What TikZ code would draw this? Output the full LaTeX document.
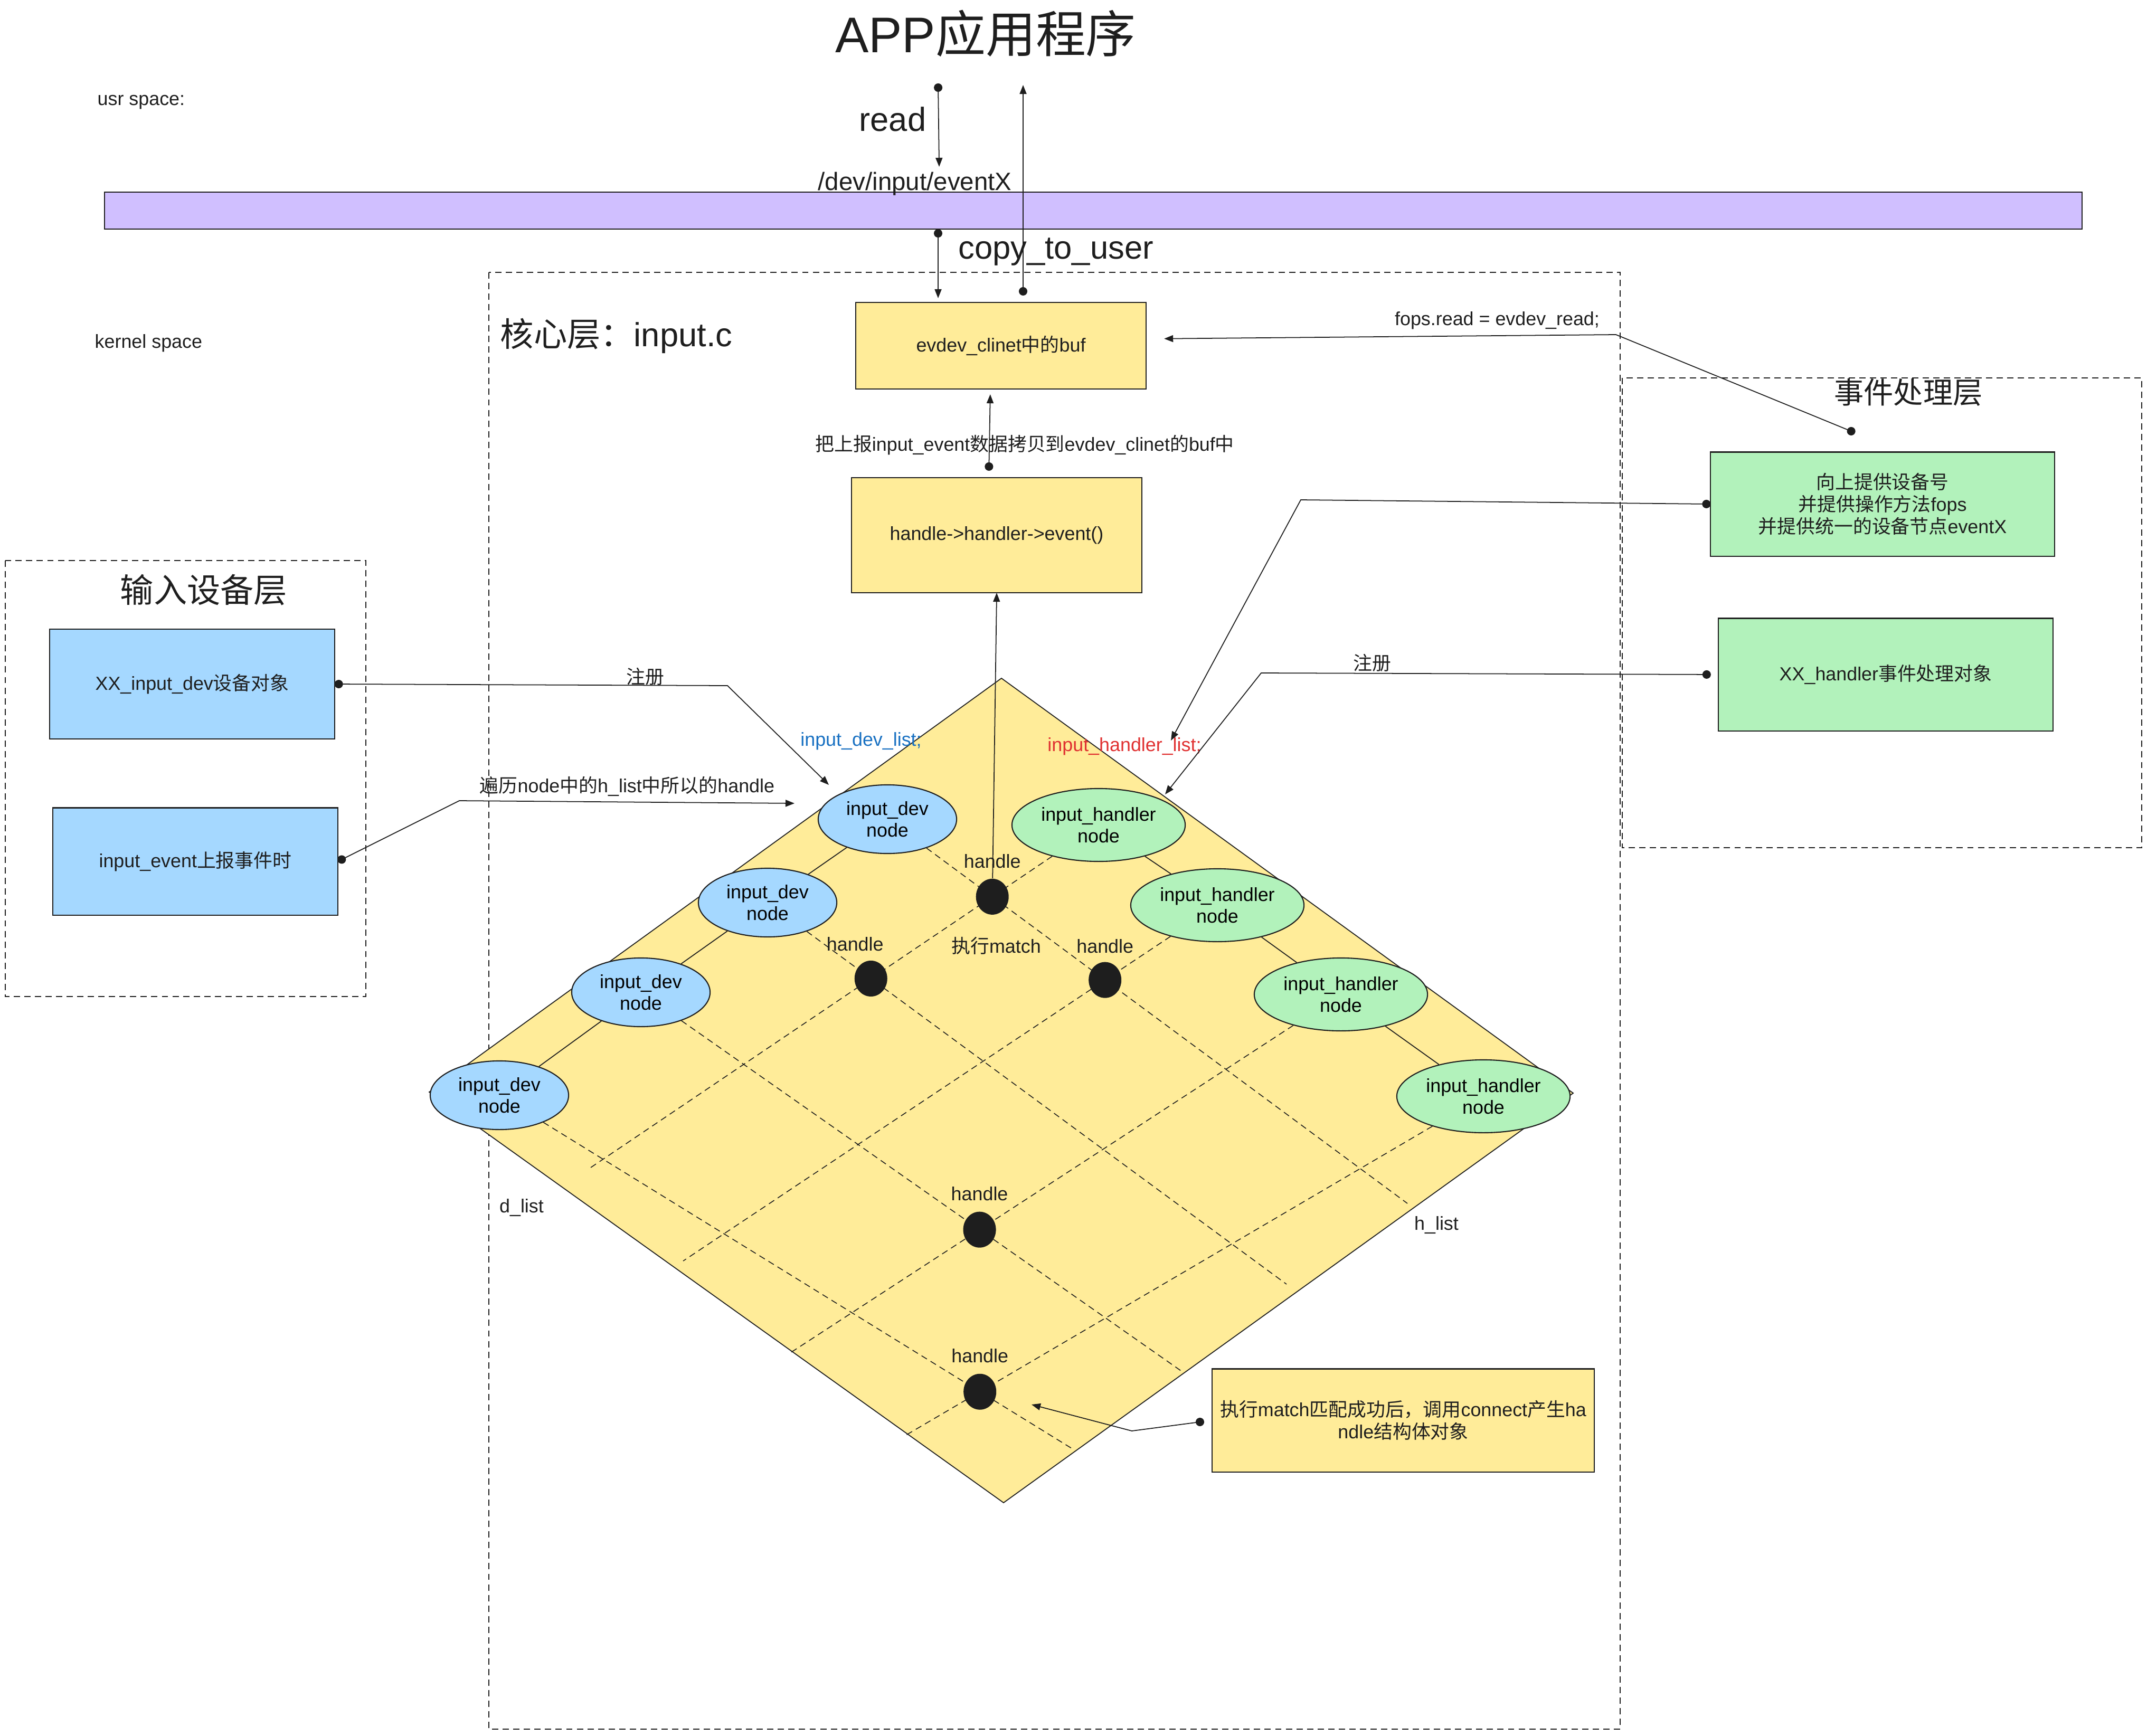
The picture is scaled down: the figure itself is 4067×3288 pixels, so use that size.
\documentclass[tikz,border=0pt]{standalone}
\usepackage{fontspec}
\setmainfont{Liberation Sans}
\newfontfamily\zhfont{Noto Sans CJK SC}
% switch to the CJK font for runs of Chinese characters
\XeTeXinterchartokenstate=1
\newXeTeXintercharclass\zhclass
\newcount\zhcnt
\zhcnt="3000
\loop \XeTeXcharclass\zhcnt=\zhclass \advance\zhcnt by 1 \ifnum\zhcnt<"A000 \repeat
\zhcnt="FF00
\loop \XeTeXcharclass\zhcnt=\zhclass \advance\zhcnt by 1 \ifnum\zhcnt<"FF60 \repeat
\XeTeXinterchartoks 0 \zhclass = {\begingroup\zhfont}
\XeTeXinterchartoks 4095 \zhclass = {\begingroup\zhfont}
\XeTeXinterchartoks \zhclass 0 = {\endgroup}
\XeTeXinterchartoks \zhclass 4095 = {\endgroup}
\usetikzlibrary{arrows.meta,shapes.geometric}
\definecolor{ink}{HTML}{1E1E1E}
\definecolor{yel}{HTML}{FFEC99}
\definecolor{blu}{HTML}{A5D8FF}
\definecolor{grn}{HTML}{B2F2BB}
\definecolor{pur}{HTML}{D0BFFF}
\definecolor{listblue}{HTML}{1971C2}
\definecolor{listred}{HTML}{E03131}

\begin{document}
\begin{tikzpicture}[
x=0.01cm, y=-0.01cm,
      txt/.style = {font=\fontsize{10.2}{12}\selectfont, text=ink},% small labels
    layer/.style = {font=\fontsize{18}{22}\selectfont, text=ink},% layer titles
      box/.style = {rectangle, draw=ink, line width=0.6pt, outer sep=0pt,
                    align=center, txt},
     ybox/.style = {box, fill=yel},
     bbox/.style = {box, fill=blu},
     gbox/.style = {box, fill=grn},
  devnode/.style = {ellipse, draw=ink, line width=0.6pt, fill=blu, inner sep=0pt,
                    minimum width=2.62cm, minimum height=1.3cm, align=center,
                    font=\fontsize{10.2}{11.5}\selectfont},
  hdlnode/.style = {devnode, fill=grn, minimum width=3.28cm, minimum height=1.38cm},
     hdot/.style = {ellipse, fill=ink, inner sep=0pt,
                    minimum width=0.62cm, minimum height=0.68cm},
    frame/.style = {draw=ink, line width=0.55pt, dash pattern=on 3.4pt off 2.3pt},
     grid/.style = {draw=ink, line width=0.45pt, dash pattern=on 3.4pt off 2.3pt},
     link/.style = {draw=ink, line width=0.5pt},
      arr/.style = {draw=ink, line width=0.5pt, -{Triangle[length=0.17cm,width=0.13cm]}},
   dotarr/.style = {draw=ink, line width=0.5pt,
                    {Circle[length=0.16cm]}-{Triangle[length=0.17cm,width=0.13cm]}},
                        ]
\useasboundingbox (0,0) rectangle (4067,3288);

% user space
\node[font=\fontsize{27}{32}\selectfont, text=ink, anchor=base] (app) at (1867,100) {APP应用程序};
\node[txt, inner sep=0pt, anchor=base west] (usr) at (184,200) {usr space:};
\node[txt, inner sep=0pt, anchor=base west] (kern) at (179,659) {kernel space};
\node[rectangle, draw=ink, line width=0.6pt, fill=pur, outer sep=0pt,
      minimum width=37.44cm, minimum height=0.7cm] (bar) at (2071,399) {};
\node[font=\fontsize{18}{22}\selectfont, text=ink, anchor=base] (read) at (1691,249) {read};
\node[font=\fontsize{13.5}{16}\selectfont, text=ink, anchor=base] (devx) at (1733,361) {/dev/input/eventX};
\node[font=\fontsize{17.5}{21}\selectfont, text=ink, anchor=base] (ctu) at (2000,490) {copy\_to\_user};

% dashed layers
\draw[frame] (926,516) rectangle (3069,3276);
\draw[frame] (3073,716) rectangle (4057,1606);
\draw[frame] (10,1062) rectangle (693,1888);
\node[layer, inner sep=0pt, anchor=base west] (core) at (947,656) {核心层：input.c};
\node[layer] (inlayer) at (386,1118) {输入设备层};
\node[layer, font=\fontsize{16}{20}\selectfont] (evlayer) at (3615,743) {事件处理层};

% boxes
\node[ybox, minimum width=5.5cm, minimum height=1.64cm] (evdev) at (1896,655) {evdev\_clinet中的buf};
\node[ybox, minimum width=5.5cm, minimum height=2.18cm] (event) at (1888,1014) {handle->handler->event()};
\node[bbox, minimum width=5.39cm, minimum height=2.08cm] (db1) at (364,1296) {XX\_input\_dev设备对象};
\node[bbox, minimum width=5.4cm, minimum height=2.03cm] (db2) at (370,1632) {input\_event上报事件时};
\node[gbox, minimum width=6.51cm, minimum height=1.97cm] (hb1) at (3566,955)
    {向上提供设备号\\并提供操作方法fops\\并提供统一的设备节点eventX};
\node[gbox, minimum width=6.34cm, minimum height=2.13cm] (hb2) at (3572,1278) {XX\_handler事件处理对象};

% the match table
\draw[ink, line width=0.5pt, fill=yel] (1897,1285) -- (2980,2071) -- (1901,2847) -- (813,2069) -- cycle;
\foreach \i/\x/\y in {1/1681/1552, 2/1454/1710, 3/1214/1880, 4/946/2075}
    \node[devnode] (dev\i) at (\x,\y) {input\_dev\\node};
\foreach \i/\x/\y in {1/2081/1563, 2/2306/1715, 3/2540/1884, 4/2810/2077}
    \node[hdlnode] (hdl\i) at (\x,\y) {input\_handler\\node};
\coordinate (e1) at (2666,2280);
\coordinate (e2) at (2437,2433);
\coordinate (e3) at (2237,2597);
\coordinate (e4) at (2030,2744);
\coordinate (f1) at (1116,2214);
\coordinate (f2) at (1294,2389);
\coordinate (f3) at (1494,2565);
\coordinate (f4) at (1716,2719);
\foreach \i in {1,...,4}
    {\draw[grid] (dev\i) -- (e\i);
     \draw[grid] (hdl\i) -- (f\i);}
\foreach \i/\j in {1/2,2/3,3/4}
    {\draw[link] (dev\i) -- (dev\j);
     \draw[link] (hdl\i) -- (hdl\j);}
\node[hdot, label={[txt, label distance=0.07cm]above:handle}] (h1)
    at (intersection of dev1.center--e1 and hdl1.center--f1) {};
\node[hdot, label={[txt, label distance=0.05cm, xshift=-0.3cm]above:handle}] (h2)
    at (intersection of dev2.center--e2 and hdl1.center--f1) {};
\node[hdot, label={[txt, label distance=0.04cm]above:handle}] (h3)
    at (intersection of dev1.center--e1 and hdl2.center--f2) {};
\node[hdot, label={[txt, label distance=0.08cm]above:handle}] (h4)
    at (intersection of dev3.center--e3 and hdl3.center--f3) {};
\node[hdot, label={[txt, label distance=0.08cm]above:handle}] (h5)
    at (intersection of dev4.center--e4 and hdl4.center--f4) {};
\node[txt] (match) at (1887,1792) {执行match};
\node[txt, text=listblue] (dlist) at (1631,1404) {input\_dev\_list;};
\node[txt, text=listred] (hlist) at (2130,1414) {input\_handler\_list;};
\node[txt] (dl) at (988,2288) {d\_list};
\node[txt] (hl) at (2721,2321) {h\_list};
\node[ybox, minimum width=7.24cm, minimum height=1.95cm] (note) at (2658,2691)
    {执行match匹配成功后，调用connect产生ha\\ndle结构体对象};

% connectors
\coordinate (rd0) at (1777,158);
\coordinate (rd1) at (1779,316);
\coordinate (cp0) at (rd0 |- bar.south);
\coordinate (up1) at (1938,161);
\draw[dotarr] (rd0) -- (rd1);
\draw[dotarr, shorten >=0.08cm] (cp0) -- (cp0 |- evdev.north);
\draw[dotarr, shorten <=0.13cm] (up1 |- evdev.north) -- (up1);
\draw[dotarr, shorten <=0.13cm, shorten >=0.1cm]
    ([xshift=-0.15cm]event.north) -- ([xshift=-0.2cm]evdev.south);
\node[txt] (copylbl) at (1941,843) {把上报input\_event数据拷贝到evdev\_clinet的buf中};
\draw[arr] (h1) -- (event.south);

\coordinate (fr0) at (3514,820);
\coordinate (fr1) at (3061,634);
\draw[dotarr, shorten >=0.34cm] (fr0) -- (fr1) -- ([yshift=0.13cm]evdev.east);
\node[txt] (fops) at (2836,607) {fops.read = evdev\_read;};

\coordinate (reg1) at (1378,1299);
\coordinate (reg2) at (1570,1487);
\draw[dotarr] (db1.east) -- (reg1) -- (reg2);
\node[txt] (reglbl) at (1222,1282) {注册};
\coordinate (trv1) at (870,1517);
\coordinate (trv2) at (1505,1522);
\draw[dotarr] (db2.east) -- (trv1) -- (trv2);
\node[txt] (trvlbl) at (1188,1490) {遍历node中的h\_list中所以的handle};

\coordinate (hl1) at (2464,947);
\coordinate (hl2) at (2218,1403);
\draw[dotarr] (hb1.west) -- (hl1) -- (hl2);
\coordinate (hr1) at (2389,1275);
\coordinate (hr2) at (2207,1505);
\draw[dotarr, shorten <=0.14cm] (hb2.west) -- (hr1) -- (hr2);
\node[txt] (reg2lbl) at (2599,1256) {注册};

\coordinate (nt1) at (2144,2711);
\coordinate (nt2) at (1954,2661);
\draw[dotarr, shorten <=0.15cm] (note.west) -- (nt1) -- (nt2);
\end{tikzpicture}
\end{document}
